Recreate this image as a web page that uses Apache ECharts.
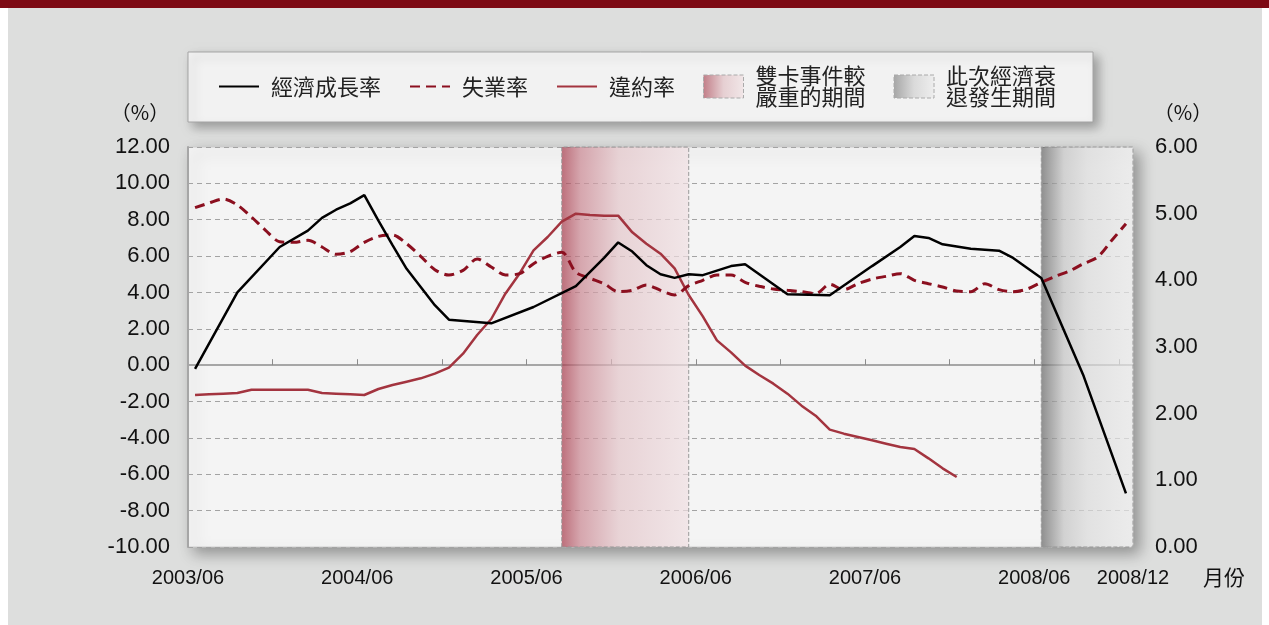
<!DOCTYPE html>
<html>
<head>
<meta charset="utf-8">
<script src="https://cdn.jsdelivr.net/npm/echarts@6.0.0/dist/echarts.min.js"></script>
<style>
  html, body { margin: 0; padding: 0; background: #fff; }
  #chart { width: 1269px; height: 625px; }
</style>
</head>
<body>
<div id="chart"></div>
<script>
const FONT = "'Liberation Sans', 'Noto Sans CJK TC', sans-serif";
const CJK = "'Noto Sans CJK TC', sans-serif";

// monthly categories 2003/06 .. 2008/12
const months = [];
for (let i = 0; i < 67; i++) {
  const t = 2003 * 12 + 5 + i;
  months.push(Math.floor(t / 12) + "/" + String((t % 12) + 1).padStart(2, "0"));
}
const labelMonths = ["2003/06", "2004/06", "2005/06", "2006/06", "2007/06", "2008/06"];

// economic growth (left axis), vertices
const gdpMonth = [0, 3, 6, 8, 9, 10, 11, 12, 13, 14, 15, 16, 17, 18, 21, 24, 27, 29, 30, 31,
  32, 33, 34, 35, 36, 38, 39, 42, 45, 48, 50, 51, 52, 53, 55, 57, 58, 59, 60, 63, 66];
const gdpValue = [-0.2, 4.0, 6.5, 7.4, 8.1, 8.55, 8.9, 9.35, 7.95, 6.6, 5.3, 4.3, 3.3, 2.5, 2.3, 3.2, 4.35, 5.9, 6.75, 6.25,
  5.5, 5.0, 4.8, 5.0, 4.95, 5.45, 5.55, 3.9, 3.85, 5.45, 6.5, 7.1, 7.0, 6.65, 6.4, 6.3, 5.9, 5.35, 4.8, -0.6, -7.05];

// unemployment rate (right axis), monthly
const unemployment = [5.09, 5.16, 5.22, 5.13, 4.95, 4.75, 4.58, 4.57, 4.60, 4.50,
  4.39, 4.43, 4.57, 4.66, 4.68, 4.55, 4.36, 4.16, 4.08, 4.15,
  4.32, 4.20, 4.08, 4.10, 4.25, 4.36, 4.42, 4.12, 4.03, 3.95,
  3.83, 3.85, 3.93, 3.85, 3.78, 3.92, 4.00, 4.08, 4.08, 3.97,
  3.91, 3.87, 3.85, 3.83, 3.80, 3.94, 3.86, 3.95, 4.02, 4.06,
  4.10, 4.00, 3.95, 3.90, 3.84, 3.83, 3.95, 3.86, 3.83, 3.87,
  3.97, 4.06, 4.14, 4.25, 4.35, 4.60, 4.85];

// default rate (right axis), monthly, ends 2007/12
const defaultRate = [2.28, 2.29, 2.30, 2.31, 2.36, 2.36, 2.36, 2.36, 2.36, 2.31,
  2.30, 2.29, 2.28, 2.37, 2.43, 2.48, 2.53, 2.60, 2.69, 2.90,
  3.18, 3.42, 3.80, 4.10, 4.45, 4.65, 4.88, 5.00, 4.98, 4.97,
  4.97, 4.72, 4.55, 4.40, 4.18, 3.78, 3.46, 3.10, 2.92, 2.72,
  2.58, 2.45, 2.30, 2.12, 1.97, 1.76, 1.70, 1.65, 1.60, 1.55,
  1.50, 1.47, 1.33, 1.18, 1.05];

const cardCrisis = ["2005/08", "2006/05"];
const recession = ["2008/06", "2008/12"];

const names = ["經濟成長率", "失業率", "違約率", "雙卡事件較\n嚴重的期間", "此次經濟衰\n退發生期間"];

const X_MAX = months.length;
const center = (m) => months.indexOf(m) + 0.5;

const pinkGrad = new echarts.graphic.LinearGradient(0, 0, 1, 0, [
  { offset: 0, color: "rgba(165,54,71,0.7)" },
  { offset: 0.15, color: "rgba(201,133,144,0.7)" },
  { offset: 0.45, color: "rgba(227,197,201,0.7)" },
  { offset: 1, color: "rgba(240,224,227,0.7)" },
]);
const grayGrad = new echarts.graphic.LinearGradient(0, 0, 1, 0, [
  { offset: 0, color: "rgba(98,98,98,0.7)" },
  { offset: 0.25, color: "rgba(195,195,195,0.7)" },
  { offset: 0.5, color: "rgba(218,218,218,0.7)" },
  { offset: 1, color: "rgba(233,233,233,0.7)" },
]);
const pinkSwatch = new echarts.graphic.LinearGradient(0, 0, 1, 0, [
  { offset: 0, color: "#c17d87" },
  { offset: 0.5, color: "#e6cfd2" },
  { offset: 1, color: "#f1e7e8" },
]);
const graySwatch = new echarts.graphic.LinearGradient(0, 0, 1, 0, [
  { offset: 0, color: "#a5a5a5" },
  { offset: 0.5, color: "#dadada" },
  { offset: 1, color: "#eeeeee" },
]);

const chart = echarts.init(document.getElementById("chart"));

const option = {
  backgroundColor: "#dddedd",
  textStyle: { fontFamily: FONT },
  animation: false,
  graphic: [
    { type: "rect", shape: { x: 0, y: 0, width: 8, height: 625 }, style: { fill: "#fff" } },
    { type: "rect", shape: { x: 1262, y: 0, width: 7, height: 625 }, style: { fill: "#fff" } },
    { type: "rect", shape: { x: 0, y: 0, width: 1269, height: 8 }, style: { fill: "#7d0a14" } },
    // x axis unit, placed past the last label
    { type: "text", left: 1203, top: 567, style: { text: "月份", fill: "#111", font: "21px " + CJK } },
  ],
  legend: {
    left: 188,
    top: 52,
    padding: [13, 37, 14, 30],
    itemWidth: 40,
    itemHeight: 23,
    itemGap: 28,
    selectedMode: false,
    backgroundColor: "#f2f2f2",
    borderColor: "#a3a3a3",
    borderWidth: 1,
    shadowBlur: 10,
    shadowColor: "rgba(0,0,0,0.3)",
    shadowOffsetX: 5,
    shadowOffsetY: 5,
    textStyle: { fontSize: 22, color: "#222", lineHeight: 21, padding: [0, 0, 0, 7], fontFamily: CJK },
    data: [
      { name: names[0], itemStyle: { opacity: 0 } },
      { name: names[1], itemStyle: { opacity: 0 } },
      { name: names[2], itemStyle: { opacity: 0 } },
      { name: names[3], icon: "rect", itemStyle: { color: pinkSwatch, borderColor: "#aaa", borderWidth: 1, borderType: "dashed" } },
      { name: names[4], icon: "rect", itemStyle: { color: graySwatch, borderColor: "#aaa", borderWidth: 1, borderType: "dashed" } },
    ],
  },
  grid: {
    left: 188,
    right: 136,
    top: 147,
    bottom: 78,
    show: true,
    backgroundColor: "#f4f4f4",
    borderColor: "#cccccc",
    borderWidth: 1,
    shadowBlur: 14,
    shadowColor: "rgba(0,0,0,0.35)",
    shadowOffsetX: 6,
    shadowOffsetY: 6,
  },
  xAxis: {
    type: "value",
    min: 0,
    max: X_MAX,
    axisLine: { lineStyle: { color: "#a6a6a6", width: 2 } },
    axisTick: {
      inside: true,
      length: 6,
      lineStyle: { color: "#8c8c8c" },
      customValues: [6, 12, 18, 24, 30, 36, 42, 48, 54, 60, 66],
    },
    axisLabel: {
      fontSize: 20,
      color: "#111",
      margin: 21,
      customValues: labelMonths.map((m) => months.indexOf(m)).concat([X_MAX]),
      formatter: (v) => (v === X_MAX ? recession[1] : months[v]),
    },
    splitLine: { show: false },
  },
  yAxis: [
    {
      type: "value",
      min: -10,
      max: 12,
      interval: 2,
      position: "left",
      name: "（%）",
      nameLocation: "end",
      nameGap: 25,
      nameTextStyle: { fontSize: 20, color: "#111", fontFamily: CJK, align: "center", padding: [0, 96, 0, 0] },
      axisLine: { show: true, lineStyle: { color: "#a6a6a6", width: 2 } },
      axisTick: { show: false },
      axisLabel: { fontSize: 22, color: "#111", margin: 18, padding: [8, 0, 0, 0], formatter: (v) => v.toFixed(2) },
      splitLine: { show: true, lineStyle: { color: "#a3a3a3", type: [5, 4], width: 1 } },
    },
    {
      type: "value",
      min: 0,
      max: 6,
      interval: 1,
      position: "right",
      name: "（%）",
      nameLocation: "end",
      nameGap: 25,
      nameTextStyle: { fontSize: 20, color: "#111", fontFamily: CJK, align: "center", padding: [0, 0, 0, 100] },
      axisLine: { show: false },
      axisTick: { show: false },
      axisLabel: { fontSize: 22, color: "#111", margin: 22, padding: [8, 0, 0, 0], formatter: (v) => v.toFixed(2) },
      splitLine: { show: false },
    },
  ],
  series: [
    {
      name: names[0],
      type: "line",
      yAxisIndex: 0,
      symbol: "none",
      z: 5,
      data: gdpMonth.map((m, i) => [m + 0.5, gdpValue[i]]),
      lineStyle: { color: "#000", width: 2.5 },
      itemStyle: { color: "#000" },
    },
    {
      name: names[1],
      type: "line",
      yAxisIndex: 1,
      symbol: "none",
      smooth: 0.3,
      z: 4,
      data: unemployment.map((v, i) => [i + 0.5, v]),
      lineStyle: { color: "#8b0f1f", width: 3, type: [10, 6] },
      itemStyle: { color: "#8b0f1f" },
    },
    {
      name: names[2],
      type: "line",
      yAxisIndex: 1,
      symbol: "none",
      z: 3,
      data: defaultRate.map((v, i) => [i + 0.5, v]),
      lineStyle: { color: "#a3343f", width: 2.5 },
      itemStyle: { color: "#a3343f" },
    },
    {
      name: names[3],
      type: "line",
      z: 1,
      data: [],
      itemStyle: { color: "#c17d87" },
      markArea: {
        silent: true,
        label: { show: false },
        itemStyle: { color: pinkGrad, borderColor: "#9a9a9a", borderWidth: 1, borderType: "dashed" },
        data: [[{ xAxis: center(cardCrisis[0]) }, { xAxis: center(cardCrisis[1]) }]],
      },
    },
    {
      name: names[4],
      type: "line",
      z: 1,
      data: [],
      itemStyle: { color: "#a5a5a5" },
      markArea: {
        silent: true,
        label: { show: false },
        itemStyle: { color: grayGrad, borderColor: "#9a9a9a", borderWidth: 1, borderType: "dashed" },
        data: [[{ xAxis: center(recession[0]) }, { xAxis: X_MAX }]],
      },
    },
  ],
};

chart.setOption(option);
</script>
</body>
</html>
